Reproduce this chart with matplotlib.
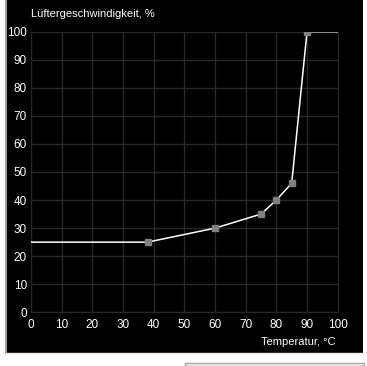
import matplotlib
matplotlib.use('Agg')
import matplotlib.pyplot as plt
from matplotlib.patches import Rectangle
from matplotlib.lines import Line2D

# fan curve: temperature (°C) -> fan speed (%)
temperature = [0, 38, 60, 75, 80, 85, 90, 100]
fan_speed = [25, 25, 30, 35, 40, 46, 100, 100]
x_ticks = list(range(0, 101, 10))
y_ticks = list(range(0, 101, 10))

W, H = 367, 366
fig = plt.figure(figsize=(W / 100, H / 100), dpi=100)
fig.patch.set_facecolor('white')

def px(x0, y0, w, h):
    # pixel box (top-left origin) -> figure fraction
    return (x0 / W, 1 - (y0 + h) / H, w / W, h / H)

# black panel with sunken border
fig.patches.append(Rectangle(px(7, 0, 356, 353)[:2], 356 / W, 353 / H,
                             transform=fig.transFigure, facecolor='black',
                             edgecolor='none', zorder=-2))
fig.lines.append(Line2D([6 / W, 6 / W], [1, 1 - 353 / H], transform=fig.transFigure,
                        color='#a0a0a0', lw=1.5, zorder=-1))
fig.lines.append(Line2D([6 / W, 363 / W], [1 - 353 / H, 1 - 353 / H],
                        transform=fig.transFigure, color='#e8e8e8', lw=1, zorder=-1))
# small box at bottom right
fig.patches.append(Rectangle((185 / W, 0), 179 / W, 3.5 / H,
                             transform=fig.transFigure, facecolor='#f0f0f0',
                             edgecolor='#a8a8a8', lw=1, zorder=-1))

ax = fig.add_axes(px(31, 31.7, 306.7, 280.6))
ax.set_facecolor('black')
ax.plot(temperature, fan_speed, color='white', lw=1.1, zorder=3)
ax.plot(temperature[1:-1], fan_speed[1:-1], linestyle='none', marker='s',
        markersize=4.5, color='#808080', zorder=4)

ax.set_xlim(0, 100)
ax.set_ylim(0, 100)
ax.set_xticks(x_ticks)
ax.set_yticks(y_ticks)
ax.grid(True, color='#282828', lw=1)
ax.set_axisbelow(True)
for s in ax.spines.values():
    s.set_color('#282828')
ax.tick_params(length=0, colors='white', labelsize=8.5)
ax.tick_params(axis='x', pad=5)
ax.tick_params(axis='y', pad=3)
for lab in ax.get_xticklabels() + ax.get_yticklabels():
    lab.set_family('Liberation Sans')

fig.text(31 / W, 1 - 14 / H, 'Lüftergeschwindigkeit, %', color='white',
         fontsize=8, family='Liberation Sans', va='center', ha='left')
fig.text(336 / W, 1 - 342 / H, 'Temperatur, °C', color='white',
         fontsize=8, family='Liberation Sans', va='center', ha='right')

fig.savefig('out.png', dpi=100, facecolor='white')
